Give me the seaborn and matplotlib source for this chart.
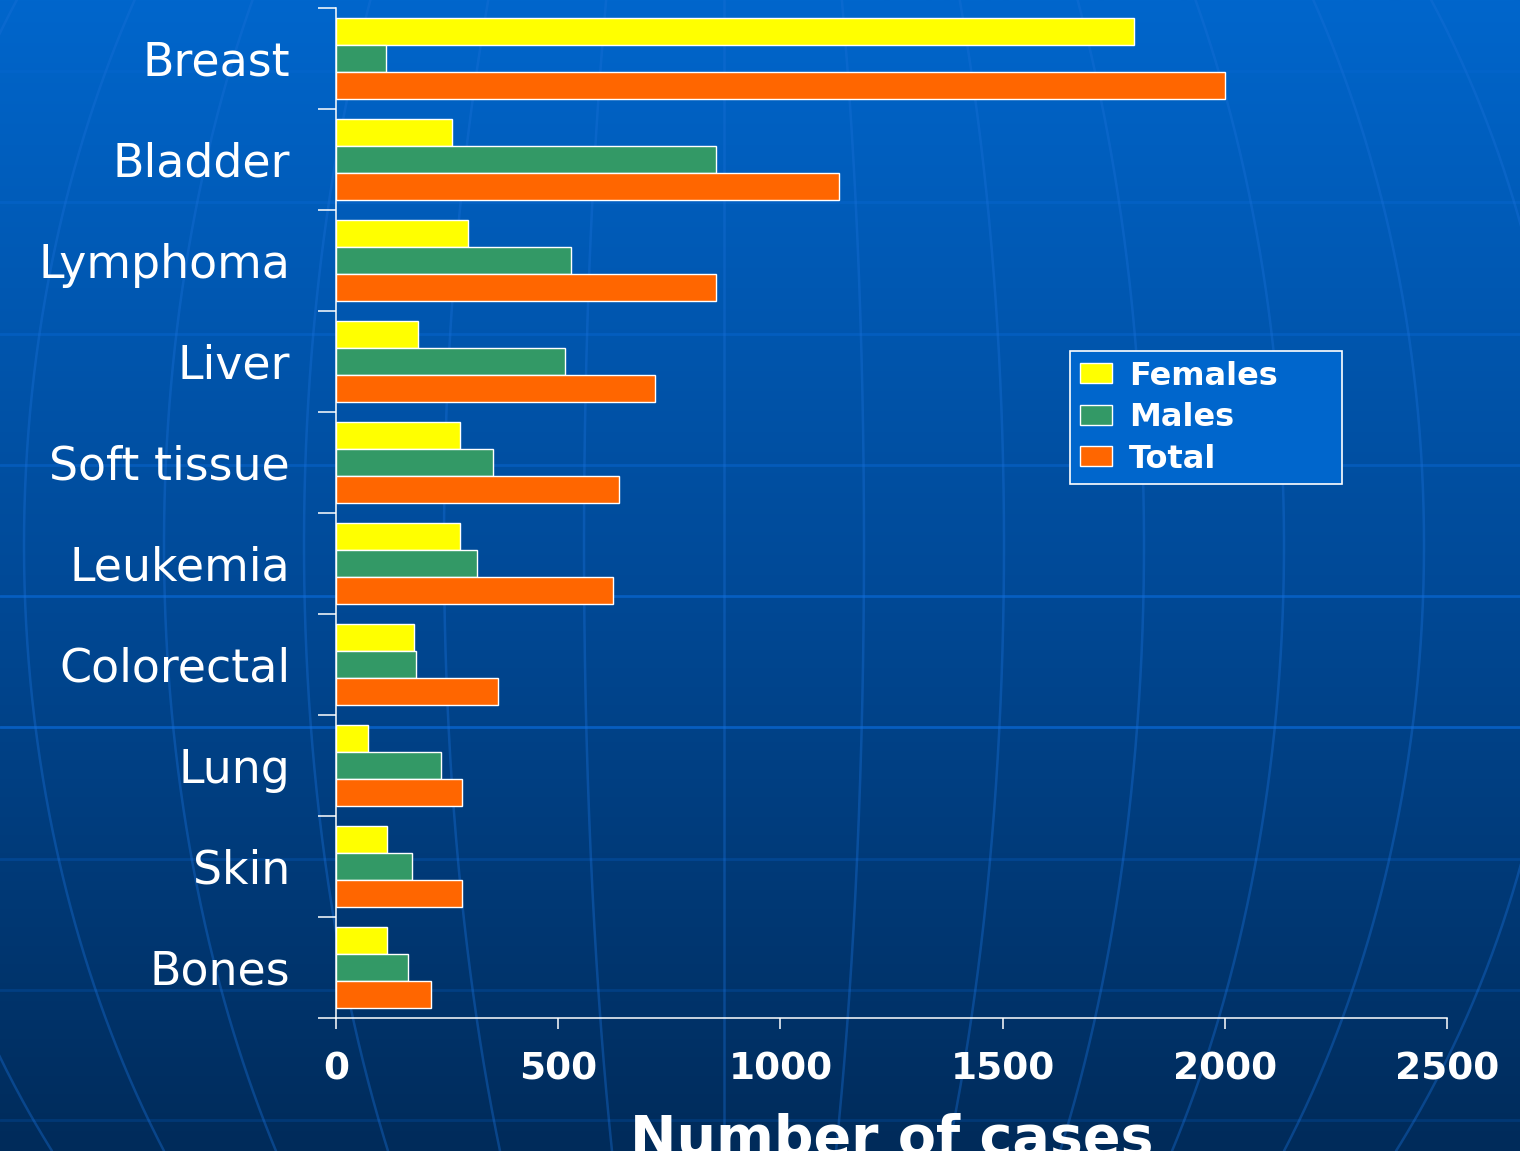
import numpy as np
import pandas as pd
import seaborn as sns
import matplotlib.pyplot as plt
from matplotlib.ticker import FixedLocator

# Cancer cases by site
sites = ["Breast", "Bladder", "Lymphoma", "Liver", "Soft tissue",
         "Leukemia", "Colorectal", "Lung", "Skin", "Bones"]
females = [1795, 260, 298, 185, 279, 279, 176, 72, 115, 115]
males = [112, 855, 529, 515, 353, 317, 180, 236, 171, 162]
total = [2000, 1132, 855, 718, 637, 623, 365, 284, 284, 214]
groups = ["Females", "Males", "Total"]
colors = ["#FFFF00", "#339966", "#FF6600"]
x_ticks = [0, 500, 1000, 1500, 2000, 2500]

df = pd.DataFrame({
    "site": sites * 3,
    "group": np.repeat(groups, len(sites)),
    "cases": females + males + total,
})

sns.set_style("ticks")
plt.rcParams["font.family"] = ["DejaVu Sans"]

W, H = 1520, 1151
fig = plt.figure(figsize=(W / 100, H / 100), dpi=100)

# slide background: blue gradient with a faint globe grid
bg = fig.add_axes([0, 0, 1, 1], zorder=0)
t = np.linspace(0, 1, 400)
stops = [0, 0.5, 1]
rgb = np.array([[0, 102, 204], [0, 74, 152], [0, 43, 90]]) / 255
grad = np.stack([np.interp(t, stops, rgb[:, c]) for c in range(3)], axis=-1)
bg.imshow(grad[:, None, :], extent=[0, W, H, 0], aspect="auto")

for y, a in zip([71, 202, 334, 465, 596, 727, 859, 990, 1120],
                [0.25, 0.35, 0.4, 0.45, 0.65, 0.7, 0.25, 0.22, 0.2]):
    bg.axhline(y, color="#0a6ad8", lw=2, alpha=a)

yy = np.linspace(0, H, 300)
w = np.sqrt(1 - ((yy - 545) / 1010) ** 2)
for k in range(-6, 7):
    bg.plot(724 + 140 * k * w, yy, color="#1a70d8", lw=1.8, alpha=0.38)
bg.set_xlim(0, W)
bg.set_ylim(H, 0)
bg.axis("off")

# chart
ax = fig.add_axes([336 / W, 1 - 1018 / H, (1447 - 336) / W, (1018 - 8) / H], zorder=1)
ax.set_facecolor("none")

sns.barplot(data=df, x="cases", y="site", hue="group", orient="h",
            palette=colors, saturation=1, width=0.8, edgecolor="white",
            linewidth=1, errorbar=None, ax=ax)

ax.set_xlim(0, 2500)
ax.set_ylim(9.5, -0.5)
ax.set_xticks(x_ticks)

sns.despine(ax=ax)
for side in ["left", "bottom"]:
    ax.spines[side].set_color("white")
    ax.spines[side].set_linewidth(1.1)

ax.tick_params(axis="both", colors="white")
ax.tick_params(axis="y", which="major", length=0, pad=33, labelsize=33)
ax.yaxis.set_minor_locator(FixedLocator(np.arange(-0.5, 10, 1)))
ax.tick_params(axis="y", which="minor", length=13, width=1.1, color="white")
ax.tick_params(axis="x", length=8, width=1.1, pad=16, labelsize=27)
for lbl in ax.get_xticklabels():
    lbl.set_fontweight("bold")

ax.set_ylabel("")
ax.set_xlabel("Number of cases", fontsize=40, fontweight="bold", color="white")
ax.xaxis.set_label_coords(0.5, -0.094)

handles, labels = ax.get_legend_handles_labels()
leg = ax.legend(handles, labels, loc="upper left", mode="expand",
                bbox_to_anchor=(1070 / W, 1 - 477 / H, 272 / W, 126 / H),
                bbox_transform=fig.transFigure,
                frameon=True, fancybox=False, facecolor="#0066CC", edgecolor="white",
                framealpha=1, prop={"weight": "bold", "size": 23}, labelcolor="white",
                handlelength=1.0, handleheight=0.58, handletextpad=0.55,
                borderpad=0.3, labelspacing=0.33, borderaxespad=0)
leg.get_frame().set_linewidth(1.2)

fig.savefig("out.png", dpi=100)
